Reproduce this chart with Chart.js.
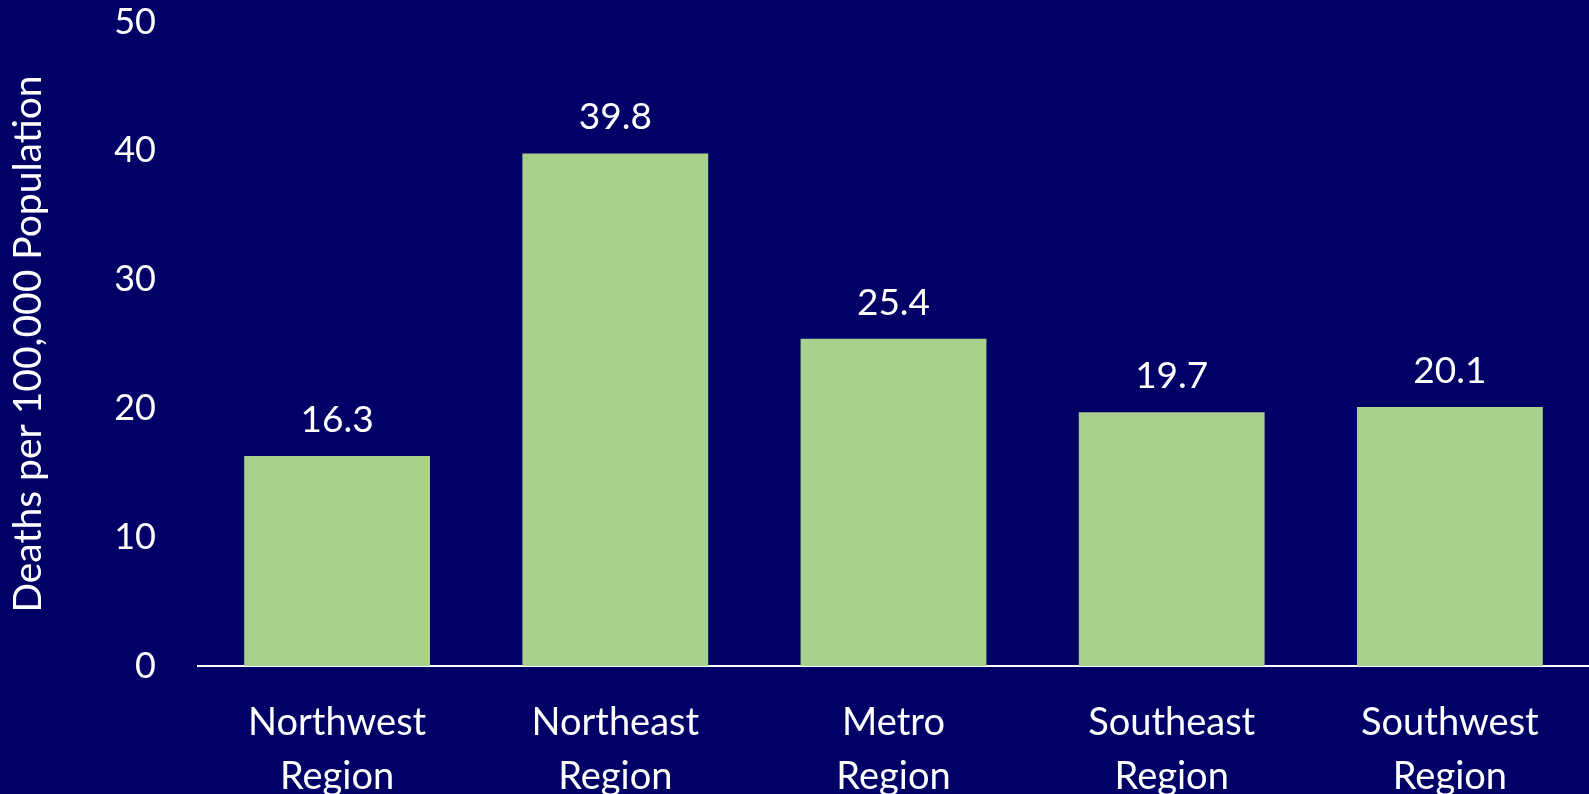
<!DOCTYPE html>
<html><head><meta charset="utf-8">
<script src="https://cdn.jsdelivr.net/npm/chart.js@4"></script>
<style>html,body{margin:0;padding:0;background:#000066;overflow:hidden}canvas{display:block}</style>
</head><body>
<canvas id="c" width="1589" height="794"></canvas>
<script>
const categories = [["Northwest","Region"],["Northeast","Region"],["Metro","Region"],["Southeast","Region"],["Southwest","Region"]];
const deathRates = [16.3, 39.8, 25.4, 19.7, 20.1];
const yTickValues = [0, 10, 20, 30, 40, 50];
const yTitle = "Deaths per 100,000 Population";

const FONT = "Lato";
const valueLabels = {
  id: 'valueLabels',
  afterDatasetsDraw(chart) {
    const ctx = chart.ctx;
    const meta = chart.getDatasetMeta(0);
    ctx.save();
    ctx.fillStyle = '#ffffff';
    ctx.font = '37px ' + FONT;
    ctx.textAlign = 'center';
    ctx.textBaseline = 'alphabetic';
    meta.data.forEach((bar, i) => {
      ctx.fillText(deathRates[i].toFixed(1), bar.x, bar.y - 24);
    });
    ctx.restore();
  }
};

new Chart(document.getElementById('c'), {
  type: 'bar',
  data: {
    labels: categories,
    datasets: [{
      data: deathRates,
      backgroundColor: '#A9D18E',
      borderWidth: 0,
      categoryPercentage: 1,
      barPercentage: 0.668
    }]
  },
  options: {
    responsive: false,
    animation: false,
    layout: { padding: { top: 22, right: 0, left: 0, bottom: 0 }, autoPadding: false },
    plugins: { legend: { display: false }, tooltip: { enabled: false } },
    scales: {
      x: {
        grid: { display: false, drawTicks: false },
        border: { display: true, color: '#ffffff', width: 2 },
        ticks: { color: '#ffffff', font: { family: FONT, size: 38, lineHeight: 1.42 }, padding: 30, maxRotation: 0, autoSkip: false },
        afterFit(s) { s.height = 128; }
      },
      y: {
        min: 0, max: 50,
        grid: { display: false, drawTicks: false },
        border: { display: false },
        afterBuildTicks(s) { s.ticks = yTickValues.map(v => ({ value: v })); },
        ticks: { color: '#ffffff', font: { family: FONT, size: 36 }, padding: 42 },
        title: { display: true, text: yTitle, color: '#ffffff', font: { family: FONT, size: 39 }, padding: { top: 5, bottom: 0 } },
        afterFit(s) { s.width = 198; s.paddingTop = 0; s.paddingBottom = 0; }
      }
    }
  },
  plugins: [valueLabels]
});
</script>
</body></html>
